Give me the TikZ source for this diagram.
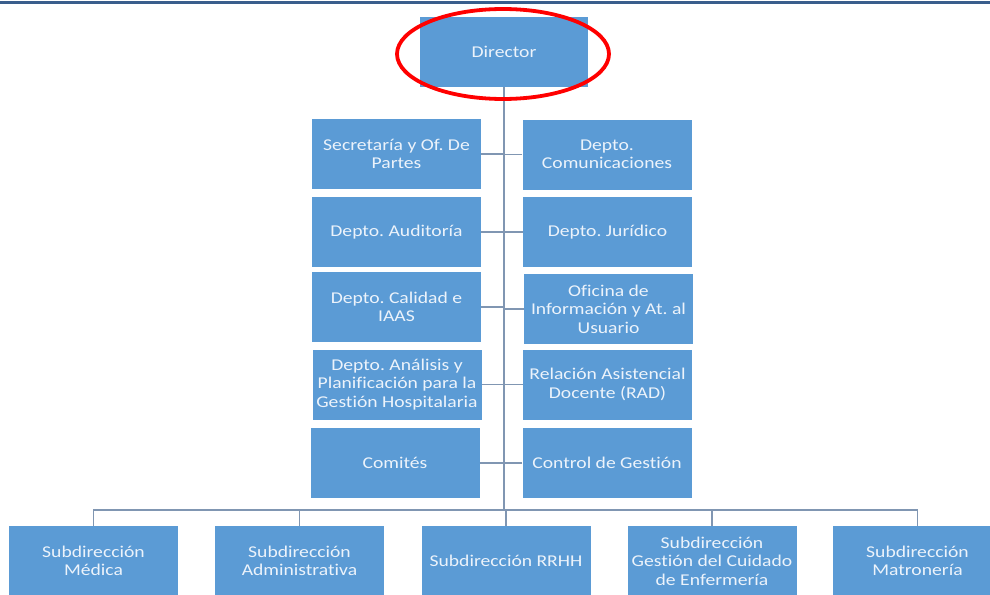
\documentclass[tikz,border=0pt]{standalone}
\usepackage{fontspec}
\setmainfont{Carlito}[Ligatures=NoCommon, FakeStretch=1.19]
\frenchspacing
\definecolor{boxblue}{RGB}{91,155,213}
\definecolor{linegray}{RGB}{128,150,178}
\definecolor{topblue}{RGB}{58,94,140}
\definecolor{txtwhite}{RGB}{236,243,251}
\tikzset{
  orgbox/.style={fill=boxblue, text=txtwhite, inner sep=0pt,
    minimum width=169pt, minimum height=70pt, align=center,
    font=\fontsize{16.5pt}{18.5pt}\selectfont},
  conn/.style={draw=linegray, line width=1.1pt},
  ring/.style={draw=red, line width=3.8pt}
}
\begin{document}
\begin{tikzpicture}[x=1pt,y=-1pt]
\useasboundingbox (0,0) rectangle (990,594);
\clip (0,0) rectangle (990,594);
\draw[topblue, line width=2.6pt] (0,2.5) -- (990,2.5);
% Director
\node[orgbox, minimum width=168pt, minimum height=70pt] (dir) at (504,52) {Director};
% left column
\node[orgbox] (sec) at (396.5,154) {Secretaría y Of. De\\Partes};
\node[orgbox] (aud) at (396.5,232) {Depto. Auditoría};
\node[orgbox] (cal) at (396.5,307) {Depto. Calidad e\\IAAS};
\node[orgbox] (ana) at (397,384.5) {Depto. Análisis y\\Planificación para la\\Gestión Hospitalaria};
\node[orgbox] (comi) at (395,463) {Comités};
% right column
\node[orgbox] (com) at (607,154.5) {Depto.\\Comunicaciones};
\node[orgbox] (jur) at (607.5,232) {Depto. Jurídico};
\node[orgbox] (ofi) at (608.5,309) {Oficina de\\Información y At. al\\Usuario};
\node[orgbox] (rad) at (607.5,384.5) {Relación Asistencial\\Docente (RAD)};
\node[orgbox] (ctl) at (607,463) {Control de Gestión};
% bottom row
\node[orgbox] (med) at (93.5,561) {Subdirección\\Médica};
\node[orgbox] (adm) at (299.5,561) {Subdirección\\Administrativa};
\node[orgbox] (rrh) at (506,561) {Subdirección RRHH};
\node[orgbox] (ges) at (712,561) {Subdirección\\Gestión del Cuidado\\de Enfermería};
\node[orgbox] (mat) at (917.5,561) {Subdirección\\Matronería};
\coordinate (bus) at (504,510);
% connectors
\draw[conn] (dir.south) -- (dir.south |- bus);
\foreach \n in {sec,aud,cal,ana,comi}{
  \draw[conn] (\n.east) -- (\n.east -| dir.south);
}
\foreach \n in {com,jur,ofi,rad,ctl}{
  \draw[conn] (\n.west) -- (\n.west -| dir.south);
}
\draw[conn] (med.north) -- (med.north |- bus) -- (mat.north |- bus) -- (mat.north);
\foreach \n in {adm,rrh,ges}{
  \draw[conn] (\n.north) -- (\n.north |- bus);
}
% red highlight ellipse
\draw[ring] (503,54) ellipse [x radius=106, y radius=45];
\end{tikzpicture}
\end{document}
